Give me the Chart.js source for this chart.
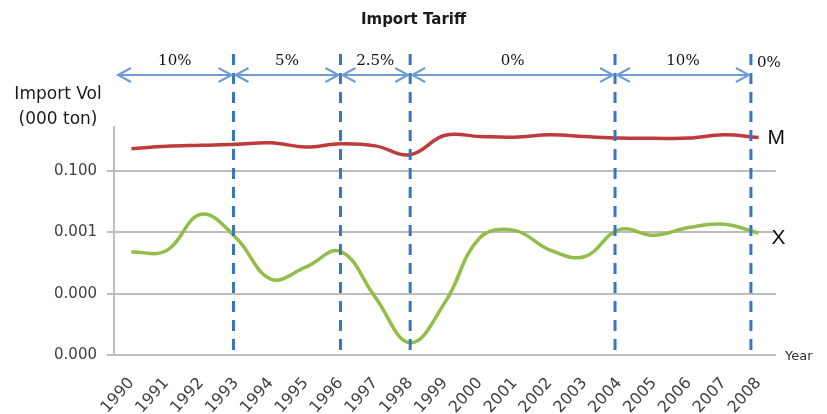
<!DOCTYPE html>
<html>
<head>
<meta charset="utf-8">
<script src="https://cdn.jsdelivr.net/npm/chart.js@4/dist/chart.umd.min.js"></script>
<style>
  html, body { margin: 0; padding: 0; background: #ffffff; }
  canvas { display: block; }
</style>
</head>
<body>
<canvas id="c" width="827" height="414"></canvas>
<script>
// Years on the category axis
const years = ['1990','1991','1992','1993','1994','1995','1996','1997','1998','1999',
               '2000','2001','2002','2003','2004','2005','2006','2007','2008'];

// Import volume (000 ton), series M
const importM = [0.53, 0.64, 0.69, 0.74, 0.83, 0.61, 0.77, 0.66, 0.34, 1.46,
                 1.33, 1.27, 1.51, 1.33, 1.18, 1.16, 1.18, 1.51, 1.24];

// Import volume (000 ton), series X
const importX = [2.3e-4, 2.5e-4, 3.9e-3, 6.7e-4, 3.0e-5, 7.3e-5, 2.4e-4, 7.6e-6, 2.5e-7, 5.2e-6,
                 6.7e-4, 1.16e-3, 2.7e-4, 1.6e-4, 1.23e-3, 8.0e-4, 1.43e-3, 1.83e-3, 9.5e-4];

// Log-axis tick values (labelled with three decimals)
const yTicks = [1e-7, 1e-5, 1e-3, 1e-1];

// Tariff regime boundaries, in category-index units, and the rate of each period
const tariffBreaks = [2.93, 6, 8, 13.88, 17.78];
const tariffRates = ['10%', '5%', '2.5%', '0%', '10%', '0%'];

const seriesNames = ['M', 'X'];

const FONT = "'DejaVu Sans', sans-serif";

function chevron(ctx, x, y, dir) {
  ctx.beginPath();
  ctx.moveTo(x - dir * 13, y - 7);
  ctx.lineTo(x, y);
  ctx.lineTo(x - dir * 13, y + 7);
  ctx.stroke();
}

const overlay = {
  id: 'tariffOverlay',
  afterDatasetsDraw(chart) {
    const { ctx, chartArea: a, scales: { x } } = chart;
    const bx = tariffBreaks.map(v => x.getPixelForValue(v));
    const arrowY = a.top - 52;
    ctx.save();

    // dashed boundaries
    ctx.strokeStyle = '#3b74c2';
    ctx.lineWidth = 3;
    ctx.setLineDash([11, 8]);
    bx.forEach(px => {
      ctx.beginPath();
      ctx.moveTo(px, a.top - 73);
      ctx.lineTo(px, a.bottom - 3);
      ctx.stroke();
    });
    ctx.setLineDash([]);

    // double-headed arrows for each tariff period
    ctx.strokeStyle = '#6e9bd3';
    ctx.lineWidth = 2;
    const starts = [a.left + 4].concat(bx.slice(0, -1).map(v => v + 2));
    const ends = bx.map(v => v - 2);
    ctx.fillStyle = '#111111';
    ctx.font = "15px 'DejaVu Serif', serif";
    ctx.textAlign = 'center';
    ctx.textBaseline = 'middle';
    starts.forEach((s, i) => {
      const e = ends[i];
      ctx.beginPath();
      ctx.moveTo(s, arrowY);
      ctx.lineTo(e, arrowY);
      ctx.stroke();
      chevron(ctx, s, arrowY, -1);
      chevron(ctx, e, arrowY, 1);
      ctx.fillText(tariffRates[i], (s + e) / 2, arrowY - 14);
    });
    ctx.textAlign = 'left';
    ctx.fillText(tariffRates[tariffRates.length - 1], bx[bx.length - 1] + 6, arrowY - 12);

    // series labels at the line ends
    ctx.font = "21px 'Liberation Sans', sans-serif";
    ctx.fillStyle = '#111111';
    chart.data.datasets.forEach((ds, i) => {
      const pts = chart.getDatasetMeta(i).data;
      const p = pts[pts.length - 1];
      ctx.fillText(seriesNames[i], p.x + (i === 0 ? 9 : 13), p.y + (i === 0 ? 1 : 5));
    });

    // titles
    ctx.fillStyle = '#1a1a1a';
    ctx.textAlign = 'center';
    ctx.font = "bold 15px " + FONT;
    ctx.fillText('Import Tariff', chart.width / 2, 20);
    ctx.font = "17px " + FONT;
    ctx.fillText('Import Vol', 58, 95);
    ctx.fillText('(000 ton)', 58, 120);
    ctx.textAlign = 'left';
    ctx.font = "13px " + FONT;
    ctx.fillStyle = '#333333';
    ctx.fillText('Year', a.right + 9, a.bottom + 2);
    ctx.restore();
  }
};

new Chart(document.getElementById('c'), {
  type: 'line',
  data: {
    labels: years,
    datasets: [
      { label: 'M', data: importM, borderColor: '#bf3b3b', borderWidth: 3.5,
        tension: 0.4, pointRadius: 0, fill: false },
      { label: 'X', data: importX, borderColor: '#92bd48', borderWidth: 3.5,
        tension: 0.4, pointRadius: 0, fill: false }
    ]
  },
  options: {
    responsive: false,
    animation: false,
    layout: { padding: { top: 127, right: 51, left: 0, bottom: 0 } },
    plugins: { legend: { display: false }, title: { display: false }, tooltip: { enabled: false } },
    scales: {
      x: {
        type: 'category',
        offset: true,
        grid: { display: false, drawTicks: false },
        border: { display: false },
        ticks: {
          minRotation: 48, maxRotation: 48, padding: 19, autoSkip: false,
          color: '#404040', font: { family: FONT, size: 16 }
        },
        afterFit(s) { s.height = 59; }
      },
      y: {
        type: 'logarithmic',
        min: 1e-7,
        max: 2.72,
        afterBuildTicks(s) { s.ticks = yTicks.map(v => ({ value: v })); },
        ticks: {
          padding: 10,
          color: '#404040',
          font: { family: FONT, size: 15 },
          callback: v => Number(v).toFixed(3)
        },
        grid: { color: '#bdbdbd', lineWidth: 2, tickLength: 7 },
        border: { color: '#bdbdbd', width: 2 },
        afterFit(s) { s.width = 114; }
      }
    }
  },
  plugins: [overlay]
});
</script>
</body>
</html>
